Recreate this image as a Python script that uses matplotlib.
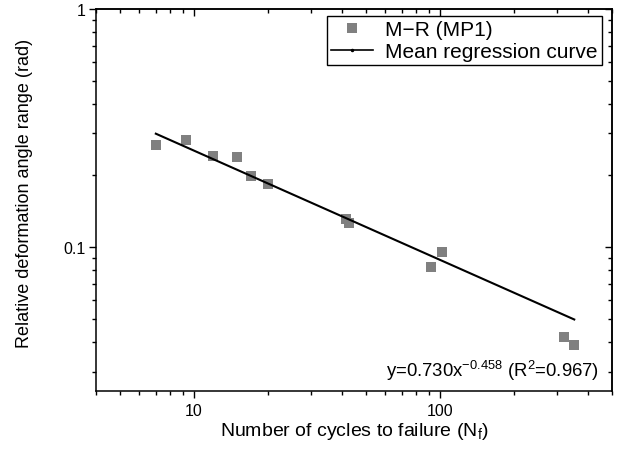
import matplotlib.pyplot as plt
from matplotlib.lines import Line2D
from matplotlib.ticker import FuncFormatter, NullFormatter, LogLocator
import numpy as np

plt.rcParams['font.family'] = ['Liberation Sans', 'DejaVu Sans']

# test data: cycles to failure vs relative deformation angle range
cycles = [7.0, 9.25, 12.0, 14.95, 17.0, 20.0, 41.3, 42.5, 91.9, 101.9, 320, 351]
angle = [0.268, 0.283, 0.241, 0.238, 0.199, 0.184, 0.131, 0.126, 0.083, 0.096, 0.042, 0.039]

# fitted power law y = a * x^b
coef_a = 0.730
coef_b = -0.458
r2 = 0.967

fig = plt.figure(figsize=(6.17, 4.56), dpi=100)
ax = fig.add_axes([0.1556, 0.1404, 0.8364, 0.8383])
ax.set_xscale('log')
ax.set_yscale('log')
ax.set_xlim(4, 500)
ax.set_ylim(0.025, 1)

ax.plot(cycles, angle, linestyle='none', marker='s', markersize=7.5,
        color='#808080', markeredgewidth=0)

xfit = np.logspace(np.log10(min(cycles)), np.log10(max(cycles)), 50)
ax.plot(xfit, coef_a * xfit ** coef_b, color='black', linewidth=1.5)

fmt = FuncFormatter(lambda v, p: '{:g}'.format(v))
for axis in (ax.xaxis, ax.yaxis):
    axis.set_major_locator(LogLocator(base=10))
    axis.set_major_formatter(fmt)
    axis.set_minor_formatter(NullFormatter())
ax.tick_params(which='major', direction='out', length=5, width=1, labelsize=11.5)
ax.tick_params(which='minor', direction='out', length=3, width=1)
ax.tick_params(axis='y', pad=2.5)
ax.tick_params(axis='x', pad=3.5)
for s in ax.spines.values():
    s.set_linewidth(1.1)

# inward ticks on the top and right frame
top = ax.secondary_xaxis('top')
right = ax.secondary_yaxis('right')
for sec in (top, right):
    sec.tick_params(which='major', direction='in', length=5, width=1)
    sec.tick_params(which='minor', direction='in', length=3, width=1)
    sec.spines[:].set_linewidth(1.1)
top.xaxis.set_major_formatter(NullFormatter())
top.xaxis.set_minor_formatter(NullFormatter())
right.yaxis.set_major_formatter(NullFormatter())
right.yaxis.set_minor_formatter(NullFormatter())

ax.set_xlabel('Number of cycles to failure (N$_{\\mathregular{f}}$)', fontsize=14)
ax.xaxis.set_label_coords(0.5, -0.075)
ax.set_ylabel('Relative deformation angle range (rad)', fontsize=13)
ax.yaxis.set_label_coords(-0.122, 0.52)

ax.text(0.975, 0.0385,
        'y=%.3fx$^{\\mathregular{%.3f}}$ (R$^{\\mathregular{2}}$=%.3f)' % (coef_a, coef_b, r2),
        transform=ax.transAxes, ha='right', va='baseline', fontsize=13.3)

handles = [
    Line2D([], [], linestyle='none', marker='s', markersize=7.5,
           color='#808080', markeredgewidth=0),
    Line2D([], [], color='black', linewidth=1.2, marker='o', markersize=1.5),
]
leg = ax.legend(handles, ['M\u2212R (MP1)', 'Mean regression curve'],
                loc='upper right', fontsize=15, frameon=True, fancybox=False,
                edgecolor='black', framealpha=1, borderpad=0.2,
                handlelength=2.0, handletextpad=0.6, labelspacing=0.15,
                bbox_to_anchor=(0.9806, 0.9817), borderaxespad=0.0)
leg.get_frame().set_linewidth(1.0)

fig.savefig('out.png', dpi=100)
